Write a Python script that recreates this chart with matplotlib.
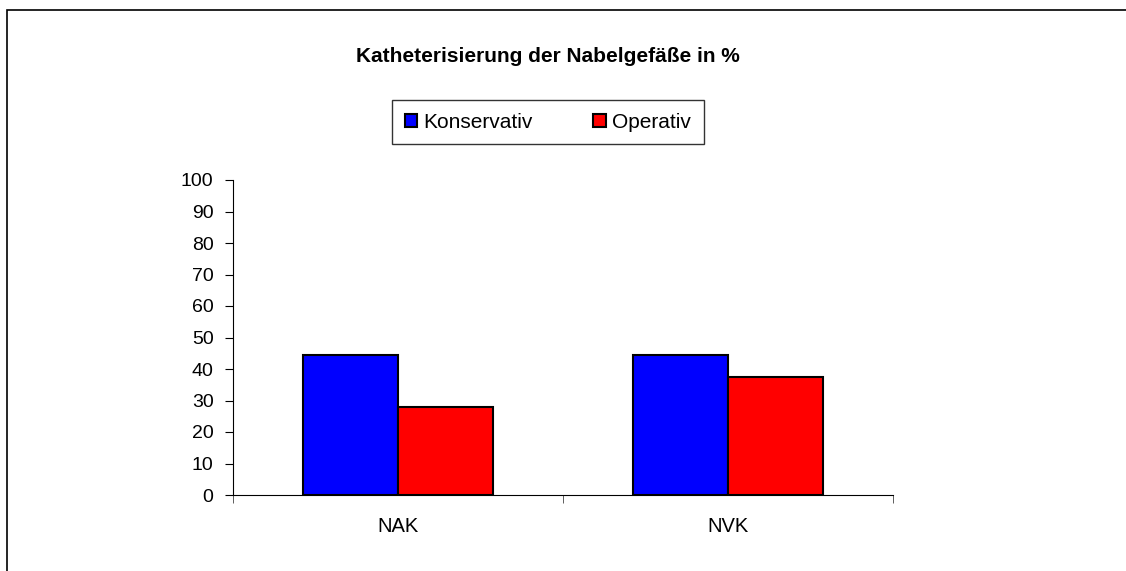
import numpy as np
import matplotlib.pyplot as plt
from matplotlib.patches import Rectangle

plt.rcParams['font.family'] = ['Liberation Sans', 'DejaVu Sans']

categories = ['NAK', 'NVK']
konservativ = [44.4, 44.4]
operativ = [27.8, 37.5]
yticks = list(range(0, 101, 10))

fig = plt.figure(figsize=(11.26, 5.71), dpi=100)
# outer chart frame (cut off at right and bottom)
fig.patches.append(Rectangle((7 / 1126, -0.1), 1.2, (571 - 10) / 571 + 0.1,
                             transform=fig.transFigure, fill=False,
                             edgecolor='black', linewidth=1.2))

ax = fig.add_axes([233 / 1126, 1 - 495 / 571, 660 / 1126, 315 / 571])
x = np.arange(len(categories))
w = 0.288
ax.bar(x - w / 2, konservativ, w, color='#0000ff', edgecolor='black', linewidth=1.5, label='Konservativ')
ax.bar(x + w / 2, operativ, w, color='#ff0000', edgecolor='black', linewidth=1.5, label='Operativ')

ax.set_xlim(-0.5, len(categories) - 0.5)
ax.set_ylim(0, 100)
ax.set_yticks(yticks)
ax.tick_params(axis='y', direction='out', length=6, labelsize=14, pad=8)
ax.set_xticks(x)
ax.set_xticklabels(categories, fontsize=14.5)
ax.tick_params(axis='x', which='major', length=0, pad=16)
ax.set_xticks(np.arange(-0.5, len(categories)), minor=True)
ax.tick_params(axis='x', which='minor', direction='out', length=6, color='#444444')
for s in ['top', 'right']:
    ax.spines[s].set_visible(False)

fig.text(548 / 1126, 1 - 56 / 571, 'Katheterisierung der Nabelgefäße in %',
         ha='center', va='center', fontsize=15, fontweight='bold')

leg = fig.legend(loc='center', bbox_to_anchor=(548 / 1126, 1 - 122 / 571), ncol=2,
                 fontsize=15, frameon=True, fancybox=False, edgecolor='black',
                 handlelength=0.6, handleheight=0.6, handletextpad=0.3,
                 columnspacing=2.9, borderpad=0.6)
leg.get_frame().set_linewidth(1.0)

fig.savefig('out.png', dpi=100)
